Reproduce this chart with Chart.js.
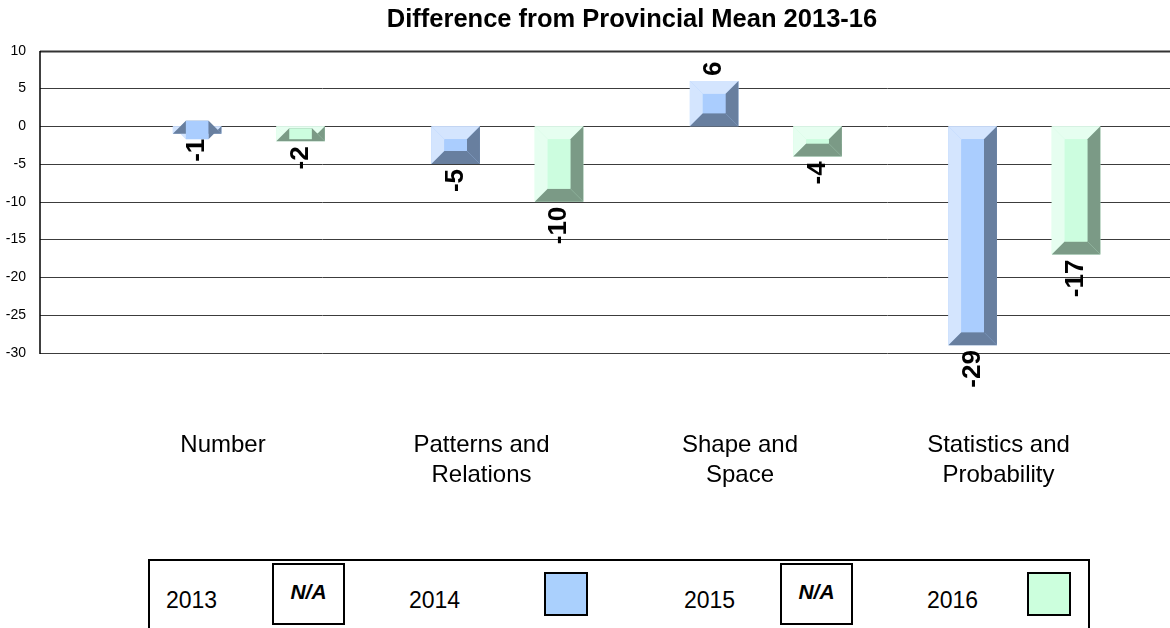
<!DOCTYPE html>
<html>
<head>
<meta charset="utf-8">
<title>Difference from Provincial Mean 2013-16</title>
<script src="https://cdn.jsdelivr.net/npm/chart.js@4.4.1/dist/chart.umd.min.js"></script>
<style>
  html, body { margin: 0; padding: 0; background: #fff; }
  body { width: 1170px; height: 628px; overflow: hidden; position: relative;
         font-family: 'Liberation Sans', Arial, sans-serif; color: #000; }
  #wrap { position: absolute; left: 0; top: 0; width: 1170px; height: 540px; }
  #legendBox { position: absolute; left: 148px; top: 559px; width: 942px; height: 120px;
               border: 2px solid #000; box-sizing: border-box; }
  .yr { position: absolute; top: 586px; font-size: 23px; line-height: 28px; }
  .na { position: absolute; top: 563px; width: 73px; height: 62px; border: 2px solid #000;
        box-sizing: border-box; font-weight: bold; font-style: italic; font-size: 21px;
        line-height: 54px; text-align: center; background: #fff; }
  .sw { position: absolute; top: 572px; width: 44px; height: 44px; border: 2px solid #000;
        box-sizing: border-box; }
</style>
</head>
<body>
<div id="wrap"><canvas id="chart" width="1170" height="540"></canvas></div>

<div id="legendBox"></div>
<div class="yr" style="left:166px">2013</div>
<div class="na" style="left:272px">N/A</div>
<div class="yr" style="left:409px">2014</div>
<div class="sw" style="left:544px;background:#aad0fd"></div>
<div class="yr" style="left:684px">2015</div>
<div class="na" style="left:780px">N/A</div>
<div class="yr" style="left:927px">2016</div>
<div class="sw" style="left:1027px;background:#ccffdd"></div>

<script>
// ── Data ──
var categories = ['Number', ['Patterns and', 'Relations'], ['Shape and', 'Space'], ['Statistics and', 'Probability']];
var seriesNames = ['2013', '2014', '2015', '2016'];
var values2013 = [null, null, null, null];
var values2014 = [-1, -5, 6, -29];
var values2015 = [null, null, null, null];
var values2016 = [-2, -10, -4, -17];
var yMin = -30, yMax = 10, yStep = 5;

var FONT = "'Liberation Sans', Arial, sans-serif";
var TITLE = 'Difference from Provincial Mean 2013-16';
var BEVEL = 13;

// ── Colours (face / light bevel / dark bevel) ──
var blue = { face: '#aacdfe', light: '#d4e5fe', dark: '#687f9f' };
var green = { face: '#ccfddf', light: '#e6fef0', dark: '#7b9a86' };

function poly(ctx, color, pts) {
    ctx.fillStyle = color;
    ctx.beginPath();
    ctx.moveTo(pts[0][0], pts[0][1]);
    for (var i = 1; i < pts.length; i++) ctx.lineTo(pts[i][0], pts[i][1]);
    ctx.closePath();
    ctx.fill();
}

function noPad(s) {
    s.paddingTop = 0; s.paddingBottom = 0;
    s.paddingLeft = 0; s.paddingRight = 0;
}

// horizontal rules run past the category area, like the original
var gridPlugin = {
    id: 'gridRules',
    beforeDatasetsDraw: function (chart) {
        var ctx = chart.ctx, y = chart.scales.y;
        var left = 40, right = chart.width;
        ctx.save();
        y.ticks.forEach(function (t) {
            var py = Math.round(y.getPixelForValue(t.value)) + 0.5;
            ctx.strokeStyle = t.value === yMax ? '#333' : '#3c3c3c';
            ctx.lineWidth = t.value === yMax ? 2 : 1;
            ctx.beginPath();
            ctx.moveTo(left, py);
            ctx.lineTo(right, py);
            ctx.stroke();
        });
        ctx.strokeStyle = '#000';
        ctx.lineWidth = 1.5;
        ctx.beginPath();
        ctx.moveTo(left, Math.round(y.getPixelForValue(yMax)));
        ctx.lineTo(left, Math.round(y.getPixelForValue(yMin)) + 1);
        ctx.stroke();
        ctx.restore();
    }
};

// bevelled bar look + rotated value labels
// (bevel keeps its full size even on short bars, as the original does)
var bevelPlugin = {
    id: 'bevelBars',
    afterDatasetsDraw: function (chart) {
        var ctx = chart.ctx;
        ctx.save();
        chart.data.datasets.forEach(function (ds, i) {
            if (!ds.bevel) return;
            var meta = chart.getDatasetMeta(i);
            meta.data.forEach(function (bar, j) {
                var v = ds.data[j];
                if (v == null) return;
                var p = bar.getProps(['x', 'y', 'base', 'width'], true);
                var l = p.x - p.width / 2, r = p.x + p.width / 2;
                var t = Math.min(p.y, p.base), b = Math.max(p.y, p.base);
                var k = Math.min(BEVEL, (r - l) / 2);
                poly(ctx, ds.bevel.light, [[l, t], [r, t], [r - k, t + k], [l + k, t + k]]);
                poly(ctx, ds.bevel.light, [[l, t], [l + k, t + k], [l + k, b - k], [l, b]]);
                poly(ctx, ds.bevel.dark, [[r, t], [r, b], [r - k, b - k], [r - k, t + k]]);
                poly(ctx, ds.bevel.dark, [[l, b], [r, b], [r - k, b - k], [l + k, b - k]]);
                var fy0 = Math.min(t + k, b - k), fy1 = Math.max(t + k, b - k);
                ctx.fillStyle = ds.bevel.face;
                ctx.fillRect(l + k, fy0, r - l - 2 * k, fy1 - fy0);

                // value label, rotated to read bottom-to-top
                ctx.save();
                ctx.fillStyle = '#000';
                ctx.font = 'bold 26px ' + FONT;
                ctx.textBaseline = 'middle';
                if (v >= 0) {
                    ctx.translate(p.x, p.y - 5);
                    ctx.rotate(-Math.PI / 2);
                    ctx.textAlign = 'left';
                } else {
                    ctx.translate(p.x, p.y + 5);
                    ctx.rotate(-Math.PI / 2);
                    ctx.textAlign = 'right';
                }
                ctx.fillText(String(v), 0, 0);
                ctx.restore();
            });
        });
        ctx.restore();
    }
};

var titlePlugin = {
    id: 'offsetTitle',
    afterDraw: function (chart) {
        var ctx = chart.ctx;
        ctx.save();
        ctx.fillStyle = '#000';
        ctx.font = 'bold 25.5px ' + FONT;
        ctx.textAlign = 'center';
        ctx.textBaseline = 'middle';
        ctx.fillText(TITLE, 632, 20);
        ctx.restore();
    }
};

function makeSet(name, data, col) {
    return {
        label: name,
        data: data,
        backgroundColor: col ? col.face : 'rgba(0,0,0,0)',
        borderWidth: 0,
        bevel: col,
        categoryPercentage: 0.8,
        barPercentage: 0.94
    };
}

new Chart(document.getElementById('chart'), {
    type: 'bar',
    data: {
        labels: categories,
        datasets: [
            makeSet(seriesNames[0], values2013, null),
            makeSet(seriesNames[1], values2014, blue),
            makeSet(seriesNames[2], values2015, null),
            makeSet(seriesNames[3], values2016, green)
        ]
    },
    options: {
        responsive: false,
        animation: false,
        layout: { padding: { top: 50.7, right: 42.25, bottom: 0, left: 0 } },
        plugins: {
            legend: { display: false },
            title: { display: false },
            tooltip: { enabled: false }
        },
        scales: {
            x: {
                grid: { display: false, drawTicks: false },
                border: { display: false },
                ticks: {
                    color: '#000',
                    font: { family: FONT, size: 24, lineHeight: 1.25 },
                    padding: 78,
                    maxRotation: 0,
                    autoSkip: false
                },
                afterFit: function (s) { s.height = 540 - 352.7; noPad(s); }
            },
            y: {
                min: yMin,
                max: yMax,
                grid: { display: false, drawTicks: false },
                border: { display: false },
                ticks: {
                    stepSize: yStep,
                    color: '#000',
                    font: { family: FONT, size: 14 },
                    padding: 67.75
                },
                afterFit: function (s) { s.width = 93.75; noPad(s); }
            }
        }
    },
    plugins: [gridPlugin, bevelPlugin, titlePlugin]
});
</script>
</body>
</html>
